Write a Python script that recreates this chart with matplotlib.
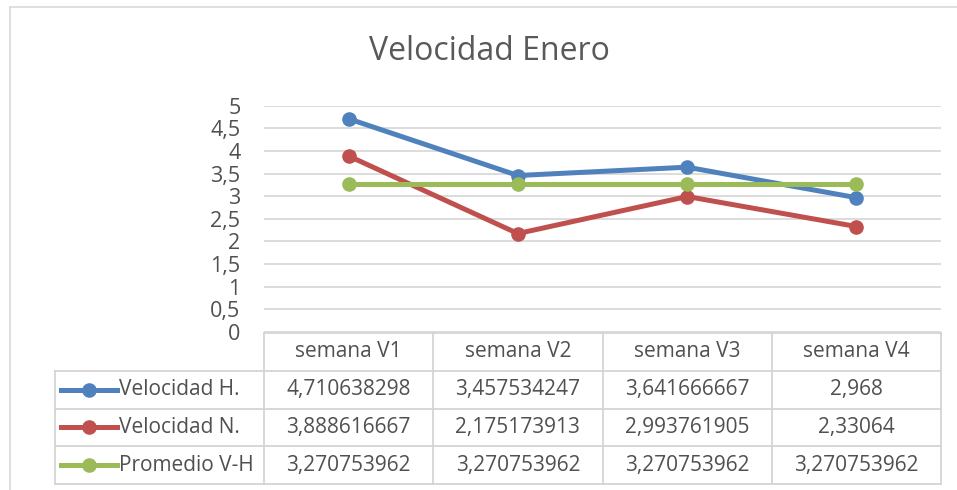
import matplotlib
matplotlib.use("Agg")
import matplotlib.pyplot as plt
from matplotlib.lines import Line2D

# data
semanas = ["semana V1", "semana V2", "semana V3", "semana V4"]
vel_h = [4.710638298, 3.457534247, 3.641666667, 2.968]
vel_n = [3.888616667, 2.175173913, 2.993761905, 2.33064]
prom_vh = [3.270753962, 3.270753962, 3.270753962, 3.270753962]

series = [
    ("Velocidad H.", vel_h, "#4F81BD"),
    ("Velocidad N.", vel_n, "#C0504D"),
    ("Promedio V-H", prom_vh, "#9BBB59"),
]
yticks = [0, 0.5, 1, 1.5, 2, 2.5, 3, 3.5, 4, 4.5, 5]

W, H = 957, 490
TXT = "#505050"
GRID = "#D9D9D9"
plt.rcParams['font.family'] = ['Open Sans', 'DejaVu Sans']


def fx(px):
    return px / W


def fy(px):
    return 1 - px / H


fig = plt.figure(figsize=(W / 100, H / 100), dpi=100)

# outer chart frame (bottom/right cut off in the source)
fig.add_artist(Line2D([fx(10), 1], [fy(7), fy(7)], color=GRID, lw=1.2))
fig.add_artist(Line2D([fx(10), fx(10)], [fy(7), 0], color=GRID, lw=1.2))

fig.text(fx(489), fy(52), "Velocidad Enero", ha="center", va="center",
         fontsize=23, color="#595959")

# plot area
x0, x1 = 264, 941
ax = fig.add_axes([fx(x0), fy(332), fx(x1 - x0), (332 - 105.7) / H])
xs = list(range(len(semanas)))
for name, vals, col in series:
    ax.plot(xs, vals, color=col, lw=3.6, marker="o", ms=9.5, zorder=3,
            solid_capstyle="round")
ax.set_xlim(-0.5, len(semanas) - 0.5)
ax.set_ylim(0, 5)
ax.set_yticks(yticks)
ax.set_yticklabels([str(t).replace(".", ",") if t % 1 else str(int(t)) for t in yticks])
ax.set_xticks([])
ax.tick_params(axis="y", length=0, pad=17, labelsize=15.5, labelcolor=TXT)
ax.grid(axis="y", color=GRID, lw=1.3)
ax.set_axisbelow(True)
for s in ax.spines.values():
    s.set_visible(False)

# data table below the plot
col_w = (x1 - x0) / len(semanas)
left = -0.5 - (x0 - 55) / col_w
tab = fig.add_axes([fx(55), fy(484), fx(x1 - 55), (484 - 333) / H])
tab.set_xlim(left, len(semanas) - 0.5)
tab.set_ylim(4, 0)
tab.axis("off")

BORDER = "#D4D4D4"
tab.plot([-0.5, len(semanas) - 0.5], [0, 0], color=BORDER, lw=1.3, clip_on=False)
for r in range(1, 5):
    tab.plot([left, len(semanas) - 0.5], [r, r], color=BORDER, lw=1.3, clip_on=False)
tab.plot([left, left], [1, 4], color=BORDER, lw=1.3, clip_on=False)
for c in range(len(semanas) + 1):
    tab.plot([c - 0.5, c - 0.5], [0, 4], color=BORDER, lw=1.3, clip_on=False)

FS = 15
for i, lab in enumerate(semanas):
    tab.text(i, 0.5, lab, ha="center", va="center", fontsize=FS, color=TXT)

kx0 = left + 6 / col_w
kx1 = left + 62 / col_w
for r, (name, vals, col) in enumerate(series, start=1):
    tab.plot([kx0, (kx0 + kx1) / 2, kx1], [r + 0.5] * 3, color=col, lw=3.6,
             marker="o", ms=9.5, markevery=[1], clip_on=False)
    tab.text(left + 64 / col_w, r + 0.5, name, ha="left", va="center",
             fontsize=FS, color=TXT)
    for i, v in enumerate(vals):
        tab.text(i, r + 0.5, repr(v).replace(".", ","), ha="center", va="center",
                 fontsize=FS, color=TXT)

fig.savefig("out.png", dpi=100, facecolor="white")
